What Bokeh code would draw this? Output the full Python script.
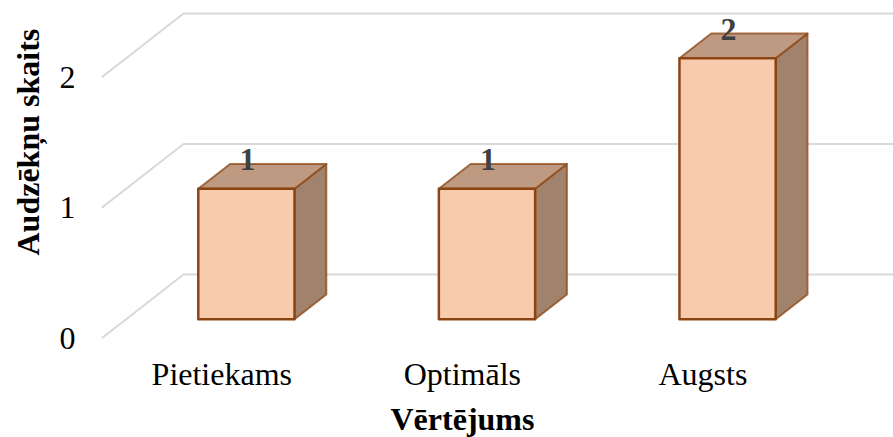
from bokeh.plotting import figure
from bokeh.models import FixedTicker, Title, Range1d
from bokeh.core.properties import value
from bokeh.embed import file_html
from bokeh.resources import INLINE

categories = ["Pietiekams", "Optimāls", "Augsts"]
counts = [1, 1, 2]
y_ticks = [0, 1, 2]
y_title = "Audzēkņu skaits"
x_title = "Vērtējums"

# oblique projection: how far one full unit of depth shifts x and y
DX, DY = 0.341, 0.49
BAR_HALF, D_FRONT, D_BACK = 0.2, 0.30, 0.6875
FONT = "Liberation Serif"

def proj(x, y, d):
    return x + DX * d, y + DY * d

p = figure(width=893, height=440, output_backend="svg", toolbar_location=None,
           x_range=Range1d(0, 3.292), y_range=Range1d(0, 2.59),
           min_border_left=101, min_border_right=0, min_border_top=0, min_border_bottom=102,
           outline_line_color=None, background_fill_color="white",
           margin=(0, 0, -3, 0))
p.grid.visible = False

# y axis
p.yaxis.ticker = FixedTicker(ticks=y_ticks)
p.yaxis.axis_line_color = None
p.yaxis.major_tick_line_color = None
p.yaxis.minor_tick_line_color = None
p.yaxis.major_label_text_font = FONT
p.yaxis.major_label_text_font_size = "32px"
p.yaxis.major_label_text_color = "#000000"
p.yaxis.major_label_standoff = 20

# x axis
centres = [i + 0.5 for i in range(len(categories))]
p.xaxis.ticker = FixedTicker(ticks=centres)
p.xaxis.major_label_overrides = dict(zip(centres, categories))
p.xaxis.axis_line_color = None
p.xaxis.major_tick_line_color = None
p.xaxis.minor_tick_line_color = None
p.xaxis.major_label_text_font = FONT
p.xaxis.major_label_text_font_size = "32px"
p.xaxis.major_label_text_color = "#000000"
p.xaxis.major_label_standoff = 11

# gridlines: wall side then back wall
gx, gy = [], []
for t in y_ticks:
    x0, y0 = proj(0, t, 0)
    x1, y1 = proj(0, t, 1)
    x2, y2 = proj(len(categories), t, 1)
    gx.append([x0, x1, x2])
    gy.append([y0, y1, y2])
p.multi_line(gx, gy, line_color="#D9D9D9", line_width=2)

EDGE = "#8B4513"
for c, v in zip(centres, counts):
    l, r = c - BAR_HALF, c + BAR_HALF
    fl = proj(l, 0, D_FRONT); fr = proj(r, 0, D_FRONT)
    tl = proj(l, v, D_FRONT); tr = proj(r, v, D_FRONT)
    bl = proj(l, v, D_BACK); br = proj(r, v, D_BACK)
    br0 = proj(r, 0, D_BACK)
    pts = [
        ([fr, br0, br, tr], "#A1826C", 2, 0.75),
        ([tl, tr, br, bl], "#BF9A82", 2, 0.75),
        ([fl, fr, tr, tl], "#F8CBAD", 2.5, 1.0),
    ]
    for poly, col, lw, la in pts:
        p.patch([q[0] for q in poly], [q[1] for q in poly], fill_color=col,
                line_color=EDGE, line_width=lw, line_join="round", line_alpha=la)

lx = [proj(c, v, D_FRONT)[0] for c, v in zip(centres, counts)]
ly = [proj(c, v, D_FRONT)[1] for c, v in zip(centres, counts)]
p.text(lx, ly, text=[str(v) for v in counts], text_font=value(FONT), text_font_style="bold",
       text_font_size="32px", text_color="#404040", text_align="center",
       text_baseline="middle", y_offset=-29, x_offset=1)

p.add_layout(Title(text=x_title, text_font=FONT, text_font_style="bold", text_font_size="32px",
                   text_color="#000000", align="left", offset=289, standoff=8,
                   vertical_align="bottom"), "below")
p.add_layout(Title(text=y_title, text_font=FONT, text_font_style="bold", text_font_size="32px",
                   text_color="#000000", align="left", offset=83, standoff=17,
                   vertical_align="top"), "left")

open("out.html", "w").write(file_html(p, INLINE))
